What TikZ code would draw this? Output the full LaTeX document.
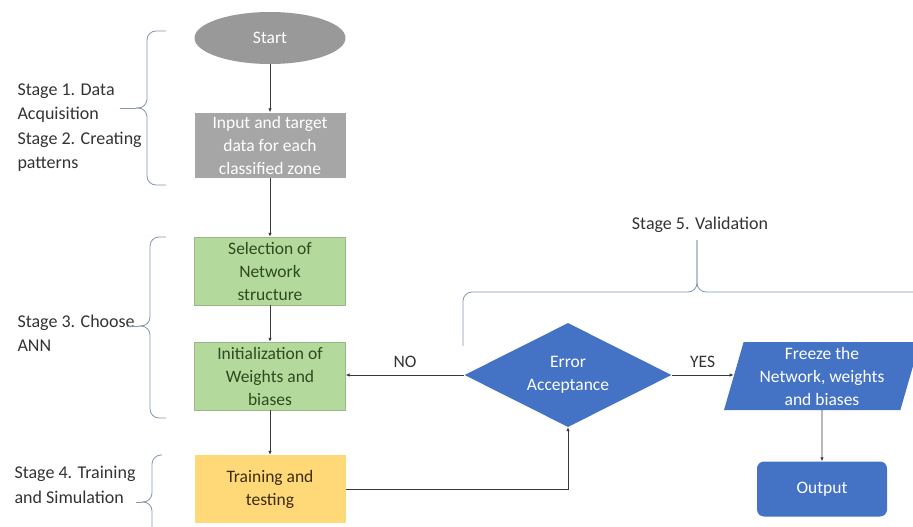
\documentclass[tikz,border=0pt]{standalone}
\usepackage{fontspec}
\setmainfont{Carlito}
\usetikzlibrary{arrows.meta,shapes.geometric}

\definecolor{greyfill}{HTML}{A6A6A6}
\definecolor{greydark}{HTML}{999999}
\definecolor{greenfill}{HTML}{B4D99C}
\definecolor{greentext}{HTML}{2E4A1E}
\definecolor{orangefill}{HTML}{FFD978}
\definecolor{orangetext}{HTML}{3B2C12}
\definecolor{bluefill}{HTML}{4472C4}
\definecolor{bracecol}{HTML}{8497B0}
\definecolor{linecol}{HTML}{3A3A3A}

\tikzset{
  every node/.style={font=\fontsize{17.5}{23}\selectfont, align=center},
  flowbox/.style={rectangle, minimum width=151pt, minimum height=68pt, inner sep=1pt},
  greybox/.style={flowbox, fill=greyfill, text=white, minimum height=65pt},
  greenbox/.style={flowbox, fill=greenfill, draw=greenfill!85!black, line width=0.4pt, text=greentext},
  orangebox/.style={flowbox, fill=orangefill, text=orangetext},
  bluedec/.style={diamond, aspect=2, fill=bluefill, text=white, minimum width=207pt, minimum height=104pt, inner sep=0pt},
  bluepar/.style={trapezium, trapezium left angle=75, trapezium right angle=105, fill=bluefill, text=white, minimum width=196pt, minimum height=68pt, inner sep=0pt, trapezium stretches=true},
  blueround/.style={rectangle, rounded corners=7pt, fill=bluefill, text=white, minimum width=130pt, minimum height=55pt},
  flow/.style={draw=linecol, line width=0.8pt, -{Latex[length=4pt,width=3.5pt]}},
  stagebrace/.style={draw=bracecol, line width=0.8pt, rounded corners=9pt},
  stagetext/.style={anchor=north west, align=left, text=black!80, font=\fontsize{18}{24.5}\selectfont},
}

\begin{document}
\begin{tikzpicture}[x=1pt, y=-1pt]
  \useasboundingbox (0,0) rectangle (913,527);

  % flowchart nodes
  \node[ellipse, fill=greydark, text=white, minimum width=151pt, minimum height=52pt] (start) at (270,38) {Start};
  \node[greybox] (input) at (270,145) {Input and target\\data for each\\classified zone};
  \node[greenbox] (select) at (270,271) {Selection of\\Network\\structure};
  \node[greenbox] (init) at (270,376) {Initialization of\\Weights and\\biases};
  \node[orangebox] (train) at (270,489) {Training and\\testing};
  \node[bluedec] (err) at (568,375) {Error\\Acceptance};
  \node[bluepar] (freeze) at (822,376) {Freeze the\\Network, weights\\and biases};
  \node[blueround] (out) at (822,489) {Output};

  % connectors
  \draw[flow] (err.west) -- node[above=4pt, text=black!80] {NO} (err.west -| init.east);
  \draw[flow] (err.east) -- node[above=4pt, text=black!80] {YES} (err.east -| freeze.west);
  \draw[flow] (start) -- (input);
  \draw[flow] (input) -- (select);
  \draw[flow] (select) -- (init);
  \draw[flow] (init) -- (train);
  \draw[flow] (train.east) -| (err.south);
  \draw[flow] (freeze) -- (out);

  % stage labels
  \node[stagetext] (s12) at (14,80) {Stage 1. Data\\Acquisition\\Stage 2. Creating\\patterns};
  \node[stagetext] (s3) at (14,311) {Stage 3. Choose\\ANN};
  \node[stagetext] (s4) at (11,463) {Stage 4. Training\\and Simulation};
  \node[anchor=south, text=black!80, font=\fontsize{18}{20}\selectfont] (s5) at (700,236) {Stage 5. Validation};

  % braces grouping the stages
  \draw[stagebrace] (166,31) -- (147,31) -- (147,108) -- (136,108);
  \draw[stagebrace] (166,185) -- (147,185) -- (147,108) -- (136,108);
  \draw[draw=bracecol, line width=0.8pt] (136,108) -- (120,108);

  \draw[stagebrace] (166,237) -- (150,237) -- (150,326) -- (139,326);
  \draw[stagebrace] (166,418) -- (150,418) -- (150,326) -- (139,326);
  \draw[draw=bracecol, line width=0.8pt] (139,326) -- (127,326);

  \draw[stagebrace] (162,455) -- (152,455) -- (152,502) -- (142,502);
  \draw[stagebrace] (152,535) -- (152,502) -- (142,502);
  \draw[draw=bracecol, line width=0.8pt] (142,502) -- (136,502);

  \draw[stagebrace] (463,346) -- (463,292) -- (697,292) -- (697,240);
  \draw[stagebrace] (925,292) -- (697,292) -- (697,240);
\end{tikzpicture}
\end{document}
